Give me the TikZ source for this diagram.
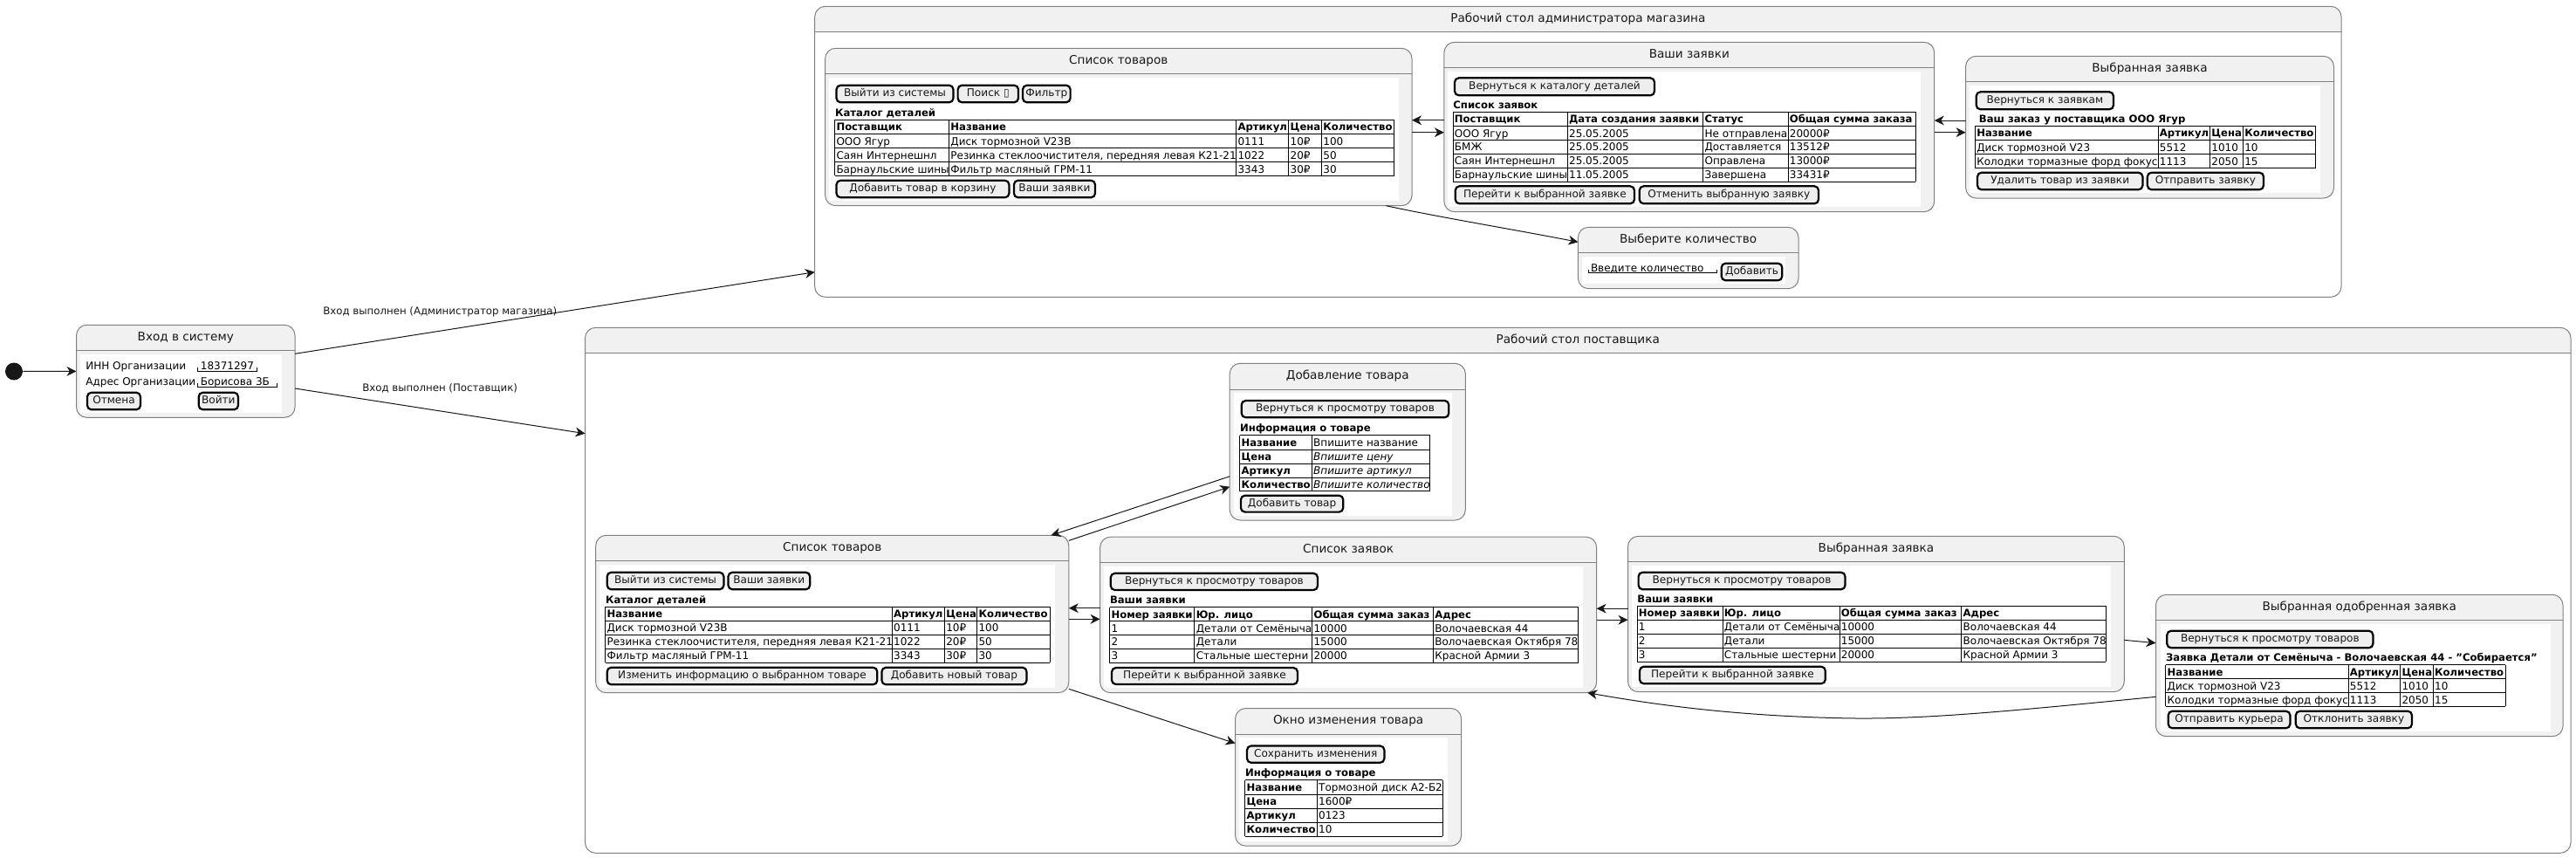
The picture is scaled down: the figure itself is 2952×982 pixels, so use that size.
\documentclass[tikz,border=0pt]{standalone}
\usepackage{fontspec}
\setmainfont{DejaVu Sans}
\usetikzlibrary{arrows.meta}

\definecolor{statefill}{HTML}{F1F1F1}
\definecolor{stateedge}{HTML}{808080}
\definecolor{btnfill}{HTML}{EEEEEE}
\definecolor{inkdark}{HTML}{181818}

\newcommand{\cellfont}{\fontsize{6}{8}\selectfont}
\newcommand{\boldfont}{\fontsize{5.82}{8}\selectfont\bfseries}
\newcommand{\labelfont}{\fontsize{5.88}{8}\selectfont}
\newcommand{\btnfont}{\fontsize{6.05}{8}\selectfont}
\newcommand{\titlefont}{\fontsize{6.8}{9}\selectfont}

\tikzset{
statenode/.style={draw=stateedge,line width=0.5pt,rounded corners=6pt,fill=statefill,anchor=north west,inner sep=0pt,outer sep=0pt},
boxtitle/.style={inner sep=0pt,font=\titlefont,text=inkdark,text height=5pt,text depth=1.4pt},
btnnode/.style={draw=black,line width=1.1pt,rounded corners=2.4pt,fill=btnfill,anchor=north west,inner sep=0pt,outer sep=0pt,font=\btnfont,text=inkdark,text height=4.4pt,text depth=1.2pt},
cell/.style={anchor=base west,inner sep=0pt,font=\cellfont,text=black},
headcell/.style={cell,font=\boldfont},
incell/.style={cell,font=\cellfont\itshape},
gridline/.style={draw=black,line width=0.5pt},
arr/.style={draw=inkdark,line width=0.5pt,-{Stealth[length=5.5pt,width=5.4pt,inset=1.7pt]}},
edgelabel/.style={inner sep=0pt,anchor=base west,font=\labelfont,text=inkdark}
}

% state with grey body: name, x1, y1, x2, y2, header line, title
\newcommand{\statebox}[7]{
\node[statenode,minimum width={(#4-#2)*0.5pt},minimum height={(#5-#3)*0.5pt}] (#1) at (#2,#3) {};
\draw[stateedge,line width=0.5pt] (#2,#6) -- (#4,#6);
\node[boxtitle] (#1title) at ({(#2+#4)/2},{(#3+#6)/2}) {#7};
}
% outer state with white body
\newcommand{\outerbox}[7]{
\begin{scope}
\clip[rounded corners=6pt] (#2,#3) rectangle (#4,#5);
\fill[statefill] (#2,#3) rectangle (#4,#6);
\end{scope}
\node[statenode,fill=none,minimum width={(#4-#2)*0.5pt},minimum height={(#5-#3)*0.5pt}] (#1) at (#2,#3) {};
\draw[stateedge,line width=0.5pt] (#2,#6) -- (#4,#6);
\node[boxtitle] (#1title) at ({(#2+#4)/2},{(#3+#6)/2}) {#7};
}
\newcommand{\btn}[6]{
\node[btnnode,minimum width={(#4-#2)*0.5pt},minimum height={(#5-#3)*0.5pt}] (#1) at (#2,#3) {#6};
}
% table lines: x1, x2, y1, y2, columns, rows
\newcommand{\gridtable}[6]{
\foreach \cx in {#5} {\draw[gridline] (\cx,#3) -- (\cx,#4);}
\foreach \ry in {#6} {\draw[gridline] (#1,\ry) -- (#2,\ry);}
}
% one row of a table: name, style, top of row, x/text pairs
\newcommand{\rowcells}[4]{
\foreach \cx/\txt [count=\n] in {#4} {\node[#2] (#1\n) at (\cx+1.5,#3+12.3) {\txt};}
}
\newcommand{\fieldline}[3]{
\draw[black,line width=0.5pt] (#1,#3-4) -- (#1,#3) -- (#2,#3) -- (#2,#3-4);
}

\begin{document}
\begin{tikzpicture}[x=0.5pt,y=-0.5pt]
\useasboundingbox (0,0) rectangle (2952,982);
\fill[white] (0,0) rectangle (2952,982);

% login
\node[circle,fill=inkdark,inner sep=0pt,minimum size=10pt] (start) at (16,425.5) {};
\statebox{login}{87.5}{372.3}{338}{478.3}{401.3}{Вход в систему}
\fill[white] (92.4,406) rectangle (323,473);
\node[cell] (innlabel) at (98,423.3) {ИНН Организации};
\node[cell] (innvalue) at (229.5,423.3) {18371297};
\fieldline{226}{294}{425}
\node[cell] (addrlabel) at (98,441.3) {Адрес Организации};
\node[cell] (addrvalue) at (229.5,441.3) {Борисова 3Б};
\fieldline{226}{317.4}{443.3}
\btn{cancelbtn}{100}{449.7}{161}{469.3}{Отмена}
\btn{enterbtn}{227.7}{449.7}{273}{469.3}{Войти}

% admin
\outerbox{admin}{933.7}{7.3}{2683}{340.3}{36}{Рабочий стол администратора магазина}

\statebox{admlist}{945.6}{55.3}{1618}{235.7}{84.7}{Список товаров}
\fill[white] (950,89) rectangle (1603,230);
\btn{admexit}{958.5}{97.7}{1092.5}{117.3}{Выйти из системы}
\btn{admsearch}{1097.6}{97.7}{1167}{117.3}{Поиск ▯}
\btn{admfilter}{1172}{97.7}{1226.6}{117.3}{Фильтр}
\node[headcell] (admcat) at (956.6,133) {Каталог деталей};
\gridtable{956.6}{1597.6}{137.3}{201.3}{956.6,1087.5,1416.7,1476.8,1514.5,1597.6}{137.3,153.7,169.7,185.7,201.3}
\rowcells{admcath}{headcell}{137.3}{956.6/Поставщик,1087.5/Название,1416.7/Артикул,1476.8/Цена,1514.5/Количество}
\rowcells{admcata}{cell}{153.7}{956.6/ООО Ягур,1087.5/Диск тормозной V23B,1416.7/0111,1476.8/10₽,1514.5/100}
\rowcells{admcatb}{cell}{169.7}{956.6/Саян Интернешнл,1087.5/{Резинка стеклоочистителя, передняя левая К21-21},1416.7/1022,1476.8/20₽,1514.5/50}
\rowcells{admcatc}{cell}{185.7}{956.6/Барнаульские шины,1087.5/Фильтр масляный ГРМ-11,1416.7/3343,1476.8/30₽,1514.5/30}
\btn{admaddcart}{958.5}{206.7}{1156.4}{226.3}{Добавить товар в корзину}
\btn{admorders}{1161.9}{206.7}{1255}{226.3}{Ваши заявки}

\statebox{admreq}{1654.9}{48.3}{2216.7}{242.7}{77.3}{Ваши заявки}
\fill[white] (1659,82) rectangle (2201,237);
\btn{admback}{1667}{89.3}{1896}{109.3}{Вернуться к каталогу деталей}
\node[headcell] (admreqcap) at (1665,124) {Список заявок};
\gridtable{1665}{2195}{128.3}{208.3}{1665,1796.2,1951.7,2049,2195}{128.3,144.7,160.3,176.3,192.3,208.3}
\rowcells{admreqh}{headcell}{128.3}{1665/Поставщик,1796.2/Дата создания заявки,1951.7/Статус,2049/Общая сумма заказа}
\rowcells{admreqa}{cell}{144.7}{1665/ООО Ягур,1796.2/25.05.2005,1951.7/Не отправлена,2049/20000₽}
\rowcells{admreqb}{cell}{160.3}{1665/БМЖ,1796.2/25.05.2005,1951.7/Доставляется,2049/13512₽}
\rowcells{admreqc}{cell}{176.3}{1665/Саян Интернешнл,1796.2/25.05.2005,1951.7/Оправлена,2049/13000₽}
\rowcells{admreqd}{cell}{192.3}{1665/Барнаульские шины,1796.2/11.05.2005,1951.7/Завершена,2049/33431₽}
\btn{admgoto}{1667.7}{213.3}{1873}{233.3}{Перейти к выбранной заявке}
\btn{admcancel}{1878.7}{213.3}{2084}{233.3}{Отменить выбранную заявку}

\statebox{admsel}{2252.6}{64.3}{2674.5}{227}{93.3}{Выбранная заявка}
\fill[white] (2257.3,98) rectangle (2659,221);
\btn{admbackreq}{2264.7}{105.3}{2422}{125.3}{Вернуться к заявкам}
\node[headcell] (admselcap) at (2267.5,140) {Ваш заказ у поставщика ООО Ягур};
\gridtable{2263.4}{2653.5}{144.3}{192.3}{2263.4,2473,2532.5,2570.4,2653.5}{144.3,160.7,176.7,192.3}
\rowcells{admselh}{headcell}{144.3}{2263.4/Название,2473/Артикул,2532.5/Цена,2570.4/Количество}
\rowcells{admsela}{cell}{160.7}{2263.4/Диск тормозной V23,2473/5512,2532.5/1010,2570.4/10}
\rowcells{admselb}{cell}{176.7}{2263.4/Колодки тормазные форд фокус,2473/1113,2532.5/2050,2570.4/15}
\btn{admdelete}{2266}{197.7}{2455.4}{217.3}{Удалить товар из заявки}
\btn{admsend}{2460.8}{197.7}{2594}{217.3}{Отправить заявку}

\statebox{admqty}{1808.4}{260.3}{2061}{330.7}{289.3}{Выберите количество}
\fill[white] (1813,294) rectangle (2046.4,325);
\node[cell] (admqtytext) at (1822.6,311) {Введите количество};
\fieldline{1820}{1967}{312.7}
\btn{admadd}{1972.7}{301.7}{2042.3}{321.3}{Добавить}

% supplier
\outerbox{supplier}{670.5}{375.3}{2946}{977.3}{404.5}{Рабочий стол поставщика}

\statebox{suplist}{682.7}{613.3}{1224.8}{793.7}{642.7}{Список товаров}
\fill[white] (687,647) rectangle (1209,788);
\btn{supexit}{695.7}{655.7}{829.4}{675.3}{Выйти из системы}
\btn{suporders}{834.5}{655.7}{928.2}{675.3}{Ваши заявки}
\node[headcell] (supcat) at (693.7,691) {Каталог деталей};
\gridtable{693.7}{1203.4}{695.3}{759.3}{693.7,1022.3,1082.4,1119.6,1203.4}{695.3,711.3,727.3,743.3,759.3}
\rowcells{supcath}{headcell}{695.3}{693.7/Название,1022.3/Артикул,1082.4/Цена,1119.6/Количество}
\rowcells{supcata}{cell}{711.3}{693.7/Диск тормозной V23B,1022.3/0111,1082.4/10₽,1119.6/100}
\rowcells{supcatb}{cell}{727.3}{693.7/{Резинка стеклоочистителя, передняя левая К21-21},1022.3/1022,1082.4/20₽,1119.6/50}
\rowcells{supcatc}{cell}{743.3}{693.7/Фильтр масляный ГРМ-11,1022.3/3343,1082.4/30₽,1119.6/30}
\btn{supchange}{695.7}{764.7}{1005.3}{784.3}{Изменить информацию о выбранном товаре}
\btn{supaddnew}{1010.4}{764.7}{1176.5}{784.3}{Добавить новый товар}

\statebox{supadd}{1409.2}{416.3}{1679.3}{596}{446}{Добавление товара}
\fill[white] (1414,450) rectangle (1663.9,590.7);
\btn{supaddback}{1422.7}{459}{1660.3}{478.3}{Вернуться к просмотру товаров}
\node[headcell] (supaddcap) at (1420.7,494.4) {Информация о товаре};
\gridtable{1420.7}{1638.6}{498.7}{562.9}{1420.7,1503.3,1638.6}{498.7,515,531,547,562.9}
\rowcells{supadda}{cell}{498.7}{1503.3/Впишите название}
\rowcells{supaddb}{incell}{515}{1503.3/Впишите цену}
\rowcells{supaddc}{incell}{531}{1503.3/Впишите артикул}
\rowcells{supaddd}{incell}{547}{1503.3/Впишите количество}
\foreach \ry/\txt [count=\n] in {498.7/Название,515/Цена,531/Артикул,547/Количество} {\node[headcell] (supaddk\n) at (1422.2,\ry+12.3) {\txt};}
\btn{supaddgo}{1421.9}{567.7}{1539.3}{586.6}{Добавить товар}

\statebox{supreq}{1260.6}{615.2}{1829.6}{793.7}{644.2}{Список заявок}
\fill[white] (1265,649) rectangle (1814,788);
\btn{supreqback}{1272.8}{656.8}{1510}{676}{Вернуться к просмотру товаров}
\node[headcell] (supreqcap) at (1271.6,691.4) {Ваши заявки};
\gridtable{1271.6}{1808.6}{695.7}{759.6}{1271.6,1368.9,1503.7,1642.5,1808.6}{695.7,711.7,727.6,743.6,759.6}
\rowcells{supreqh}{headcell}{695.7}{1271.6/Номер заявки,1368.9/Юр. лицо,1503.7/Общая сумма заказ,1642.5/Адрес}
\rowcells{supreqa}{cell}{711.7}{1271.6/1,1368.9/Детали от Семёныча,1503.7/10000,1642.5/Волочаевская 44}
\rowcells{supreqb}{cell}{727.6}{1271.6/2,1368.9/Детали,1503.7/15000,1642.5/Волочаевская Октября 78}
\rowcells{supreqc}{cell}{743.6}{1271.6/3,1368.9/Стальные шестерни,1503.7/20000,1642.5/Красной Армии 3}
\btn{supreqgo}{1274}{765}{1487}{784}{Перейти к выбранной заявке}

\statebox{supedit}{1415.6}{811.5}{1674.6}{969.2}{841.2}{Окно изменения товара}
\fill[white] (1420.3,845.3) rectangle (1659,963.6);
\btn{supeditsave}{1429}{854.5}{1586.4}{873.8}{Сохранить изменения}
\node[headcell] (supeditcap) at (1426.6,889.6) {Информация о товаре};
\gridtable{1426.6}{1653.2}{893.9}{958}{1426.6,1509.3,1653.2}{893.9,910.2,926.2,942.1,958}
\foreach \ry/\txt/\val [count=\n] in {893.9/Название/Тормозной диск А2-Б2,910.2/Цена/1600₽,926.2/Артикул/0123,942.1/Количество/10} {
\node[headcell] (supeditk\n) at (1428.1,\ry+12.3) {\txt};
\node[cell] (supeditv\n) at (1510.8,\ry+12.3) {\val};
}

\statebox{supsel}{1865.5}{614.3}{2434.3}{792.7}{643.3}{Выбранная заявка}
\fill[white] (1869.8,648) rectangle (2418.7,787);
\btn{supselback}{1877.6}{655.7}{2114.5}{675.3}{Вернуться к просмотру товаров}
\node[headcell] (supselcap) at (1876,690) {Ваши заявки};
\gridtable{1876}{2413}{694.3}{758.3}{1876,1974,2108,2247.8,2413}{694.3,710.3,726.3,742.3,758.3}
\rowcells{supselh}{headcell}{694.3}{1876/Номер заявки,1974/Юр. лицо,2108/Общая сумма заказ,2247.8/Адрес}
\rowcells{supsela}{cell}{710.3}{1876/1,1974/Детали от Семёныча,2108/10000,2247.8/Волочаевская 44}
\rowcells{supselb}{cell}{726.3}{1876/2,1974/Детали,2108/15000,2247.8/Волочаевская Октября 78}
\rowcells{supselc}{cell}{742.3}{1876/3,1974/Стальные шестерни,2108/20000,2247.8/Красной Армии 3}
\btn{supselgo}{1879}{763.7}{2091.8}{783.3}{Перейти к выбранной заявке}

\statebox{supok}{2470.5}{681.3}{2937}{843.7}{710.3}{Выбранная одобренная заявка}
\fill[white] (2475.5,715) rectangle (2923,838);
\btn{supokback}{2483.3}{722.7}{2719.4}{742.3}{Вернуться к просмотру товаров}
\node[headcell] (supokcap) at (2481.8,757.4) {Заявка Детали от Семёныча - Волочаевская 44 - "Собирается"};
\gridtable{2481.8}{2871}{761.7}{809.3}{2481.8,2691,2750.6,2788.2,2871}{761.7,777.7,793.7,809.3}
\rowcells{supokh}{headcell}{761.7}{2481.8/Название,2691/Артикул,2750.6/Цена,2788.2/Количество}
\rowcells{supoka}{cell}{777.7}{2481.8/Диск тормозной V23,2691/5512,2750.6/1010,2788.2/10}
\rowcells{supokb}{cell}{793.7}{2481.8/Колодки тормазные форд фокус,2691/1113,2750.6/2050,2788.2/15}
\btn{supokcourier}{2484.7}{814.7}{2624.4}{834.3}{Отправить курьера}
\btn{supokreject}{2630.8}{814.7}{2764}{834.3}{Отклонить заявку}

% connectors
\draw[arr] (start) -- (login.west |- 0,425.4);
\draw[arr] (login.east |- 0,405.3) -- (admin.west |- 0,311.7);
\draw[arr] (login.east |- 0,445) -- (supplier.west |- 0,496.7);
\node[edgelabel] (adminlabel) at (370,360.5) {Вход выполнен (Администратор магазина)};
\node[edgelabel] (supplierlabel) at (415,448) {Вход выполнен (Поставщик)};

\draw[arr] (admreq.west |- 0,137.7) -- (admlist.east |- 0,137.7);
\draw[arr] (admlist.east |- 0,151.7) -- (admreq.west |- 0,151.7);
\draw[arr] (admsel.west |- 0,138) -- (admreq.east |- 0,138);
\draw[arr] (admreq.east |- 0,151.7) -- (admsel.west |- 0,151.7);
\draw[arr] (admlist.south -| 1588.4,0) .. controls (1650,249) and (1730,262) .. (admqty.west |- 0,277.3);

\draw[arr] (suplist.east |- 0,619.3) -- (supadd.west |- 0,557.7);
\draw[arr] (supadd.west |- 0,545.8) -- (suplist.north -| 1204.6,0);
\draw[arr] (supreq.west |- 0,696.7) -- (suplist.east |- 0,696.7);
\draw[arr] (suplist.east |- 0,709.3) -- (supreq.west |- 0,709.3);
\draw[arr] (supsel.west |- 0,697.2) -- (supreq.east |- 0,697.2);
\draw[arr] (supreq.east |- 0,710.2) -- (supsel.west |- 0,710.2);
\draw[arr] (suplist.east |- 0,789.3) -- (supedit.west |- 0,851.6);
\draw[arr] (supsel.east |- 0,733.3) -- (supok.west |- 0,736.7);
\draw[arr] (supok.west |- 0,798.3) .. controls (2300,815) and (2200,825) .. (2109,822.7) .. controls (1990,820) and (1900,808) .. (supreq.south -| 1819.3,0);
\end{tikzpicture}
\end{document}
